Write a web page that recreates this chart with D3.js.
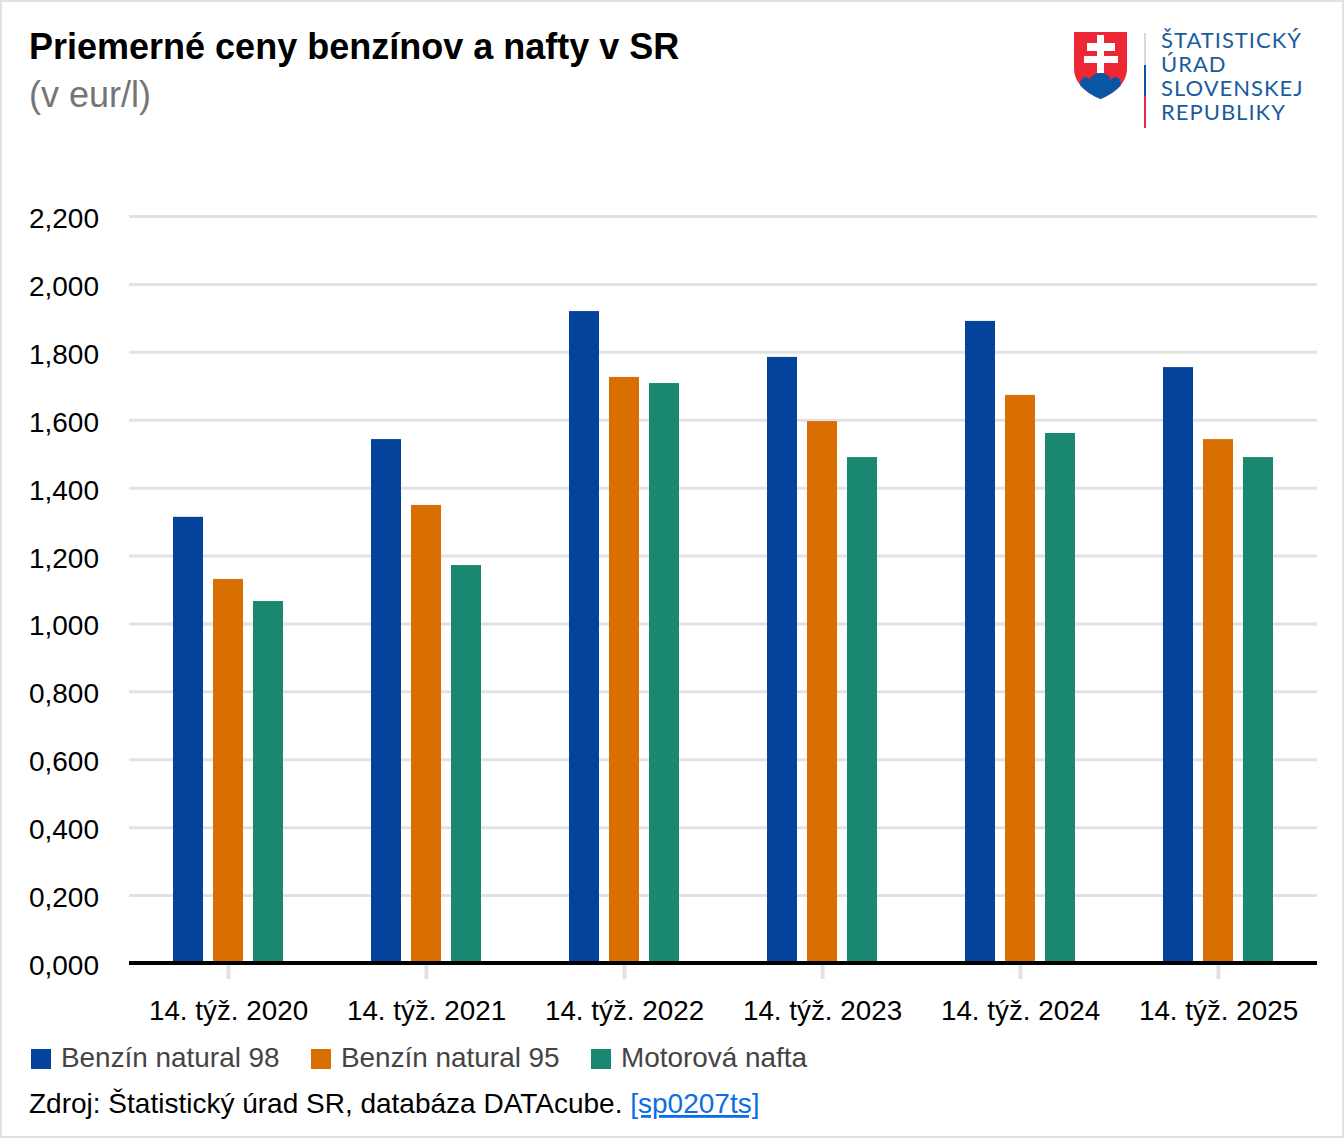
<!DOCTYPE html>
<html>
<head>
<meta charset="utf-8">
<script src="https://cdn.jsdelivr.net/npm/d3@7"></script>
<style>
html, body { margin: 0; padding: 0; background: #fff; }
svg { display: block; font-family: "Liberation Sans", Arial, sans-serif; }
</style>
</head>
<body>
<script>
// data
const tyzdne = ["14. týž. 2020", "14. týž. 2021", "14. týž. 2022", "14. týž. 2023", "14. týž. 2024", "14. týž. 2025"];
const serie = ["Benzín natural 98", "Benzín natural 95", "Motorová nafta"];
const natural98 = [1.314, 1.543, 1.920, 1.785, 1.891, 1.755];
const natural95 = [1.131, 1.349, 1.726, 1.596, 1.673, 1.543];
const nafta = [1.066, 1.172, 1.708, 1.490, 1.561, 1.490];
const farby = ["#03449a", "#d96f00", "#1a8770"];
const ticky = [0, 0.2, 0.4, 0.6, 0.8, 1.0, 1.2, 1.4, 1.6, 1.8, 2.0, 2.2];
const logoRiadky = ["ŠTATISTICKÝ", "ÚRAD", "SLOVENSKEJ", "REPUBLIKY"];

const sirka = 1344, vyska = 1138;
const hodnoty = [natural98, natural95, nafta];

const svg = d3.select("body").append("svg")
    .attr("width", sirka)
    .attr("height", vyska);

// ram okolo celeho obrazku
svg.append("rect")
    .attr("x", 1).attr("y", 1)
    .attr("width", sirka - 2).attr("height", vyska - 2)
    .attr("fill", "#fff")
    .attr("stroke", "#e2e2e2")
    .attr("stroke-width", 2);

// nadpis
svg.append("text")
    .attr("x", 29).attr("y", 59)
    .attr("font-size", 36).attr("font-weight", "bold")
    .attr("fill", "#000")
    .text("Priemerné ceny benzínov a nafty v SR");
svg.append("text")
    .attr("x", 29).attr("y", 107)
    .attr("font-size", 36)
    .attr("fill", "#757575")
    .text("(v eur/l)");

// skaly
const x = d3.scaleBand().domain(tyzdne).range([129, 1317]);
const xSerie = d3.scaleBand().domain(serie).range([x.bandwidth() / 2 - 55, x.bandwidth() / 2 + 55]).paddingInner(0.25).paddingOuter(0);
const y = d3.scaleLinear().domain([0, 2.2]).range([963, 216]);

// os y a mriezka
const osY = svg.append("g")
    .attr("transform", "translate(129,0)")
    .call(d3.axisLeft(y).tickValues(ticky).tickSize(-1188).tickPadding(30)
        .tickFormat(d => d3.format(".3f")(d).replace(".", ",")));
osY.select(".domain").remove();
osY.selectAll("line").attr("stroke", "#e2e2e2").attr("stroke-width", 3);
osY.selectAll("text").attr("font-size", 28).attr("fill", "#000").attr("font-family", "Liberation Sans").attr("dy", "0.41em");

// os x
const osX = svg.append("g")
    .attr("transform", "translate(0.5,963)")
    .call(d3.axisBottom(x).tickSize(16).tickPadding(21));
osX.select(".domain").remove();
osX.selectAll("line").attr("stroke", "#e2e2e2").attr("stroke-width", 4);
osX.selectAll("text").attr("font-size", 27.8).attr("fill", "#000").attr("font-family", "Liberation Sans");

// stlpce
serie.forEach((s, i) => {
    svg.append("g").selectAll("rect")
        .data(tyzdne)
        .join("rect")
        .attr("x", d => x(d) + xSerie(s))
        .attr("y", (d, j) => y(hodnoty[i][j]))
        .attr("width", xSerie.bandwidth())
        .attr("height", (d, j) => y(0) - y(hodnoty[i][j]))
        .attr("fill", farby[i]);
});

// nulova ciara
svg.append("line")
    .attr("x1", 129).attr("x2", 1317)
    .attr("y1", y(0)).attr("y2", y(0))
    .attr("stroke", "#000").attr("stroke-width", 4);

// legenda
const legendaX = d3.scaleOrdinal().domain(serie).range([31, 311, 591]);
const legenda = svg.append("g").selectAll("g")
    .data(serie)
    .join("g")
    .attr("transform", d => `translate(${legendaX(d)},1049)`);
legenda.append("rect")
    .attr("width", 20).attr("height", 20)
    .attr("fill", (d, i) => farby[i]);
legenda.append("text")
    .attr("x", 30).attr("y", 18)
    .attr("font-size", 27.9)
    .attr("fill", "#444")
    .text(d => d);

// zdroj
const zdroj = svg.append("text")
    .attr("x", 29).attr("y", 1113)
    .attr("font-size", 28)
    .attr("fill", "#000");
zdroj.append("tspan").text("Zdroj: Štatistický úrad SR, databáza DATAcube. ");
zdroj.append("tspan")
    .attr("fill", "#0a6ee8")
    .attr("text-decoration", "underline")
    .text("[sp0207ts]");

// logo - erb
const logo = svg.append("g").attr("transform", "translate(1074,32)");
logo.append("path")
    .attr("d", "M0,0 H53 V36 C53,52 40,61 26.5,67 C13,61 0,52 0,36 Z")
    .attr("fill", "#ee2737");
logo.append("path")
    .attr("d", "M6,53 C6,48 9,45 11,45 C13,45 15,46 16,48 C17,44 21,41 26.5,41 C32,41 36,44 37,48 C38,46 40,45 42,45 C44,45 47,48 47,53 C42,59 34,64 26.5,67 C19,64 11,59 6,53 Z")
    .attr("fill", "#0b56a4");
logo.append("path")
    .attr("d", "M23,3 H30 V11 H41 V19 H30 V24 H44 V31 H30 V41 H23 V31 H10 V24 H23 V19 H13 V11 H23 Z")
    .attr("fill", "#fff");

// logo - zvisla ciara v troch farbach
const pasy = [[33, 65, "#d9d9d9"], [65, 96, "#0b56a4"], [96, 128, "#ee2737"]];
svg.append("g").selectAll("line")
    .data(pasy)
    .join("line")
    .attr("x1", 1145).attr("x2", 1145)
    .attr("y1", d => d[0]).attr("y2", d => d[1])
    .attr("stroke", d => d[2])
    .attr("stroke-width", 2);

// logo - text
svg.append("g").selectAll("text")
    .data(logoRiadky)
    .join("text")
    .attr("x", 1161)
    .attr("y", (d, i) => 48 + i * 24)
    .attr("font-family", "Lato")
    .attr("font-size", 22)
    .attr("letter-spacing", 1)
    .attr("fill", "#1a5c9e")
    .text(d => d);
</script>
</body>
</html>
